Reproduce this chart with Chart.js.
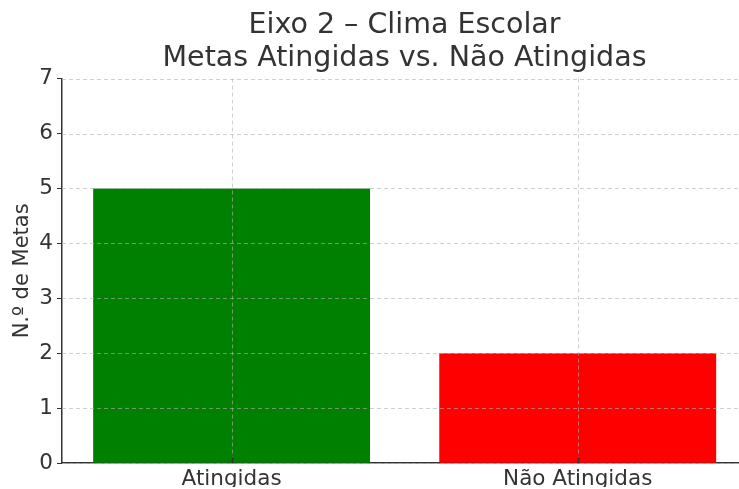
<!DOCTYPE html>
<html>
<head>
<meta charset="utf-8">
<script src="https://cdn.jsdelivr.net/npm/chart.js@4.4.1/dist/chart.umd.min.js"></script>
<style>
  html, body { margin: 0; padding: 0; background: #fff; overflow: hidden; }
</style>
</head>
<body>
<canvas id="chart" width="739" height="489"></canvas>
<script>
const categories = ['Atingidas', 'Não Atingidas'];
const metas = [5, 2];
const barColors = ['#008000', '#ff0000'];
const yTicks = [0, 1, 2, 3, 4, 5, 6, 7];

const TEXT = '#333333';
const FONT = 'DejaVu Sans';

// the title is centred over the plot area, which runs a bit past the right edge
const titleOverPlot = {
    id: 'titleOverPlot',
    afterLayout(chart) {
        chart.titleBlock.left = chart.chartArea.left;
        chart.titleBlock.right = chart.chartArea.right + 8;
    }
};

// grid drawn over the bars, as in the original figure
const gridOnTop = {
    id: 'gridOnTop',
    afterDatasetsDraw(chart) {
        const { ctx, chartArea, scales } = chart;
        ctx.save();
        ctx.strokeStyle = 'rgba(176,176,176,0.6)';
        ctx.lineWidth = 1;
        ctx.setLineDash([4, 3]);
        scales.y.ticks.forEach(t => {
            const y = Math.round(scales.y.getPixelForValue(t.value)) + 0.5;
            ctx.beginPath();
            ctx.moveTo(chartArea.left, y);
            ctx.lineTo(chartArea.right, y);
            ctx.stroke();
        });
        scales.x.ticks.forEach(t => {
            const x = Math.round(scales.x.getPixelForValue(t.value)) + 0.5;
            ctx.beginPath();
            ctx.moveTo(x, chartArea.top);
            ctx.lineTo(x, chartArea.bottom);
            ctx.stroke();
        });
        // inward ticks on the x axis
        ctx.setLineDash([]);
        ctx.strokeStyle = TEXT;
        ctx.lineWidth = 1.5;
        scales.x.ticks.forEach(t => {
            const x = Math.round(scales.x.getPixelForValue(t.value)) + 0.5;
            ctx.beginPath();
            ctx.moveTo(x, chartArea.bottom);
            ctx.lineTo(x, chartArea.bottom - 6);
            ctx.stroke();
        });
        ctx.restore();
    }
};

new Chart(document.getElementById('chart'), {
    type: 'bar',
    data: {
        datasets: [{
            data: metas.map((v, i) => ({ x: i, y: v })),
            backgroundColor: barColors,
            borderWidth: 0,
            barPercentage: 0.8,
            categoryPercentage: 1.0
        }]
    },
    options: {
        responsive: false,
        devicePixelRatio: 1,
        animation: false,
        layout: { padding: { top: 0, right: 0, bottom: 2, left: 10 } },
        plugins: {
            legend: { display: false },
            tooltip: { enabled: false },
            title: {
                display: true,
                text: ['Eixo 2 – Clima Escolar', 'Metas Atingidas vs. Não Atingidas'],
                color: TEXT,
                font: { family: FONT, size: 28.5, weight: 'normal', lineHeight: 1.15 },
                padding: { top: 9, bottom: 4 }
            }
        },
        scales: {
            x: {
                type: 'linear',
                offset: false,
                min: -0.49,
                max: 1.466,
                afterBuildTicks: axis => { axis.ticks = categories.map((c, i) => ({ value: i })); },
                ticks: {
                    color: TEXT,
                    font: { family: FONT, size: 21.5 },
                    padding: -5,
                    callback: v => categories[v]
                },
                grid: { display: false },
                border: { display: true, color: TEXT, width: 1.5 }
            },
            y: {
                min: 0,
                max: 7,
                afterBuildTicks: axis => { axis.ticks = yTicks.map(v => ({ value: v })); },
                afterFit: axis => { axis.width = 52; },
                ticks: {
                    color: TEXT,
                    font: { family: FONT, size: 21.5 },
                    padding: 4
                },
                title: {
                    display: true,
                    text: 'N.º de Metas',
                    color: TEXT,
                    font: { family: FONT, size: 21 },
                    padding: 0
                },
                grid: { color: 'transparent', tickColor: TEXT, tickLength: 5, drawOnChartArea: false },
                border: { display: true, color: TEXT, width: 1.5 }
            }
        }
    },
    plugins: [titleOverPlot, gridOnTop]
});
</script>
</body>
</html>
